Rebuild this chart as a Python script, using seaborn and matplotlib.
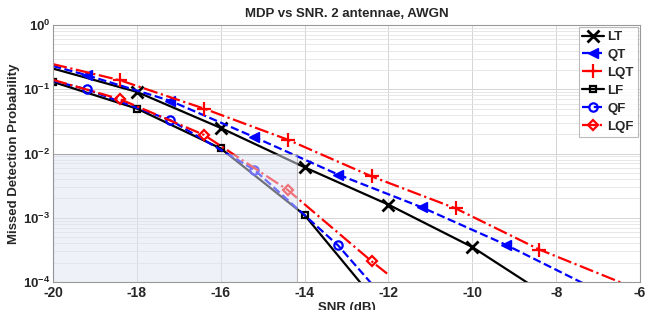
import matplotlib
matplotlib.use("Agg")
import matplotlib.pyplot as plt
import matplotlib.ticker as mticker
from matplotlib.patches import Rectangle
import seaborn as sns
import pandas as pd

# ---- data ----
lt_x = [-20, -18, -16, -14, -12, -10, -8]
lt_y = [0.21, 0.091, 0.025, 0.0061, 0.0016, 0.00035, 5e-5]

qt_x = [-20, -19.2, -17.2, -15.2, -13.2, -11.2, -9.2, -7.2]
qt_y = [0.23, 0.166, 0.066, 0.018, 0.0047, 0.00145, 0.00038, 8.5e-5]

lqt_x = [-20, -18.4, -16.4, -14.4, -12.4, -10.4, -8.4, -6.4]
lqt_y = [0.246, 0.138, 0.05, 0.0164, 0.0044, 0.0014, 0.00032, 9.5e-5]

lf_x = [-20, -18, -16, -14, -12]
lf_y = [0.13, 0.05, 0.012, 0.0011, 2.9e-5]

qf_x = [-20, -19.2, -17.2, -15.2, -13.2, -11.2]
qf_y = [0.135, 0.1, 0.033, 0.0056, 0.00037, 1.2e-5]

lqf_x = [-20, -18.4, -16.4, -14.4, -12.4, -12.0]
lqf_y = [0.14, 0.07, 0.0195, 0.0027, 0.00021, 0.00013]

series_names = ["LT", "QT", "LQT", "LF", "QF", "LQF"]
x_ticks = [-20, -18, -16, -14, -12, -10, -8, -6]
y_ticks = [1e-4, 1e-3, 1e-2, 1e-1, 1e0]
y_tick_labels = [r"$\mathbf{10^{-4}}$", r"$\mathbf{10^{-3}}$", r"$\mathbf{10^{-2}}$",
                 r"$\mathbf{10^{-1}}$", r"$\mathbf{10^{0}}$"]
zoom_box_x = [-20, -14.18]
zoom_box_y = [1e-4, 1e-2]

sns.set_theme(style="white")
plt.rcParams["font.family"] = ["Liberation Sans", "DejaVu Sans"]
plt.rcParams["font.weight"] = "bold"
plt.rcParams["mathtext.fontset"] = "custom"
plt.rcParams["mathtext.bf"] = "Liberation Sans:bold"
plt.rcParams["mathtext.rm"] = "Liberation Sans:bold"

fig = plt.figure(figsize=(6.51, 3.10), dpi=100)
ax = fig.add_axes([53 / 651, 1 - 282 / 310, (640 - 53) / 651, (282 - 25) / 310])

styles = [
    dict(x=lt_x, y=lt_y, color="black", ls="-", marker="x", ms=8, mew=2.0, mfc="black", me=[1, 2, 3, 4, 5]),
    dict(x=qt_x, y=qt_y, color="#0000ff", ls="--", marker="<", ms=7, mew=1.0, mfc="#0000ff", me=[1, 2, 3, 4, 5, 6]),
    dict(x=lqt_x, y=lqt_y, color="#ff0000", ls="-.", marker="+", ms=10, mew=1.6, mfc="#ff0000", me=[1, 2, 3, 4, 5, 6]),
    dict(x=lf_x, y=lf_y, color="black", ls="-", marker="s", ms=5, mew=1.6, mfc="none", me=[0, 1, 2, 3]),
    dict(x=qf_x, y=qf_y, color="#0000ff", ls="--", marker="o", ms=6, mew=1.6, mfc="none", me=[1, 2, 3, 4]),
    dict(x=lqf_x, y=lqf_y, color="#ff0000", ls="-.", marker="D", ms=5, mew=1.6, mfc="none", me=[1, 2, 3, 4]),
]

for name, st in zip(series_names, styles):
    df = pd.DataFrame({"snr": st["x"], "p": st["y"]})
    sns.lineplot(data=df, x="snr", y="p", ax=ax, color=st["color"], linestyle=st["ls"],
                 linewidth=1.6, marker=st["marker"], markersize=st["ms"],
                 markeredgewidth=st["mew"], markerfacecolor=st["mfc"],
                 markeredgecolor=st["color"], markevery=st["me"], label=name,
                 sort=False, estimator=None)

ax.set_yscale("log")
ax.set_xlim(-20, -6)
ax.set_ylim(1e-4, 1e0)
ax.set_xticks(x_ticks)
ax.set_xticklabels([str(v) for v in x_ticks], fontsize=10, fontweight="bold")
ax.set_yticks(y_ticks)
ax.yaxis.set_major_formatter(mticker.FixedFormatter(y_tick_labels))
ax.yaxis.set_minor_locator(mticker.LogLocator(base=10, subs=range(2, 10), numticks=20))
ax.yaxis.set_minor_formatter(mticker.NullFormatter())
for lab in ax.get_yticklabels():
    lab.set_fontsize(9.5)

ax.grid(True, which="major", color="#d4d4d4", linewidth=0.7)
ax.grid(True, which="minor", axis="y", color="#e4e4e4", linewidth=0.6)
ax.tick_params(axis="both", which="both", direction="in", length=3, color="#888888", pad=3)
ax.tick_params(axis="y", which="minor", length=0)
ax.tick_params(axis="y", pad=2)
for sp in ax.spines.values():
    sp.set_color("#999999")
    sp.set_linewidth(0.8)

rect = Rectangle((zoom_box_x[0], zoom_box_y[0]), zoom_box_x[1] - zoom_box_x[0],
                 zoom_box_y[1] - zoom_box_y[0], facecolor="#e0e4f3", alpha=0.5,
                 edgecolor="#808080", linewidth=0.8, zorder=3)
ax.add_patch(rect)

ax.set_title("MDP vs SNR. 2 antennae, AWGN", fontsize=9.5, fontweight="bold", pad=6)
ax.set_xlabel("SNR (dB)", fontsize=9.5, fontweight="bold", labelpad=1)
ax.set_ylabel("Missed Detection Probability", fontsize=9.5, fontweight="bold", labelpad=2)

leg = ax.legend(loc="upper right", fontsize=9.5, frameon=True, fancybox=False,
                borderaxespad=0.15, handlelength=1.6, handletextpad=0.3,
                labelspacing=0.43, borderpad=0.3)
leg.get_frame().set_edgecolor("#aaaaaa")
leg.get_frame().set_linewidth(0.8)
leg.set_zorder(5)
for t in leg.get_texts():
    t.set_fontweight("bold")

fig.savefig("out.png", dpi=100, facecolor="white")
